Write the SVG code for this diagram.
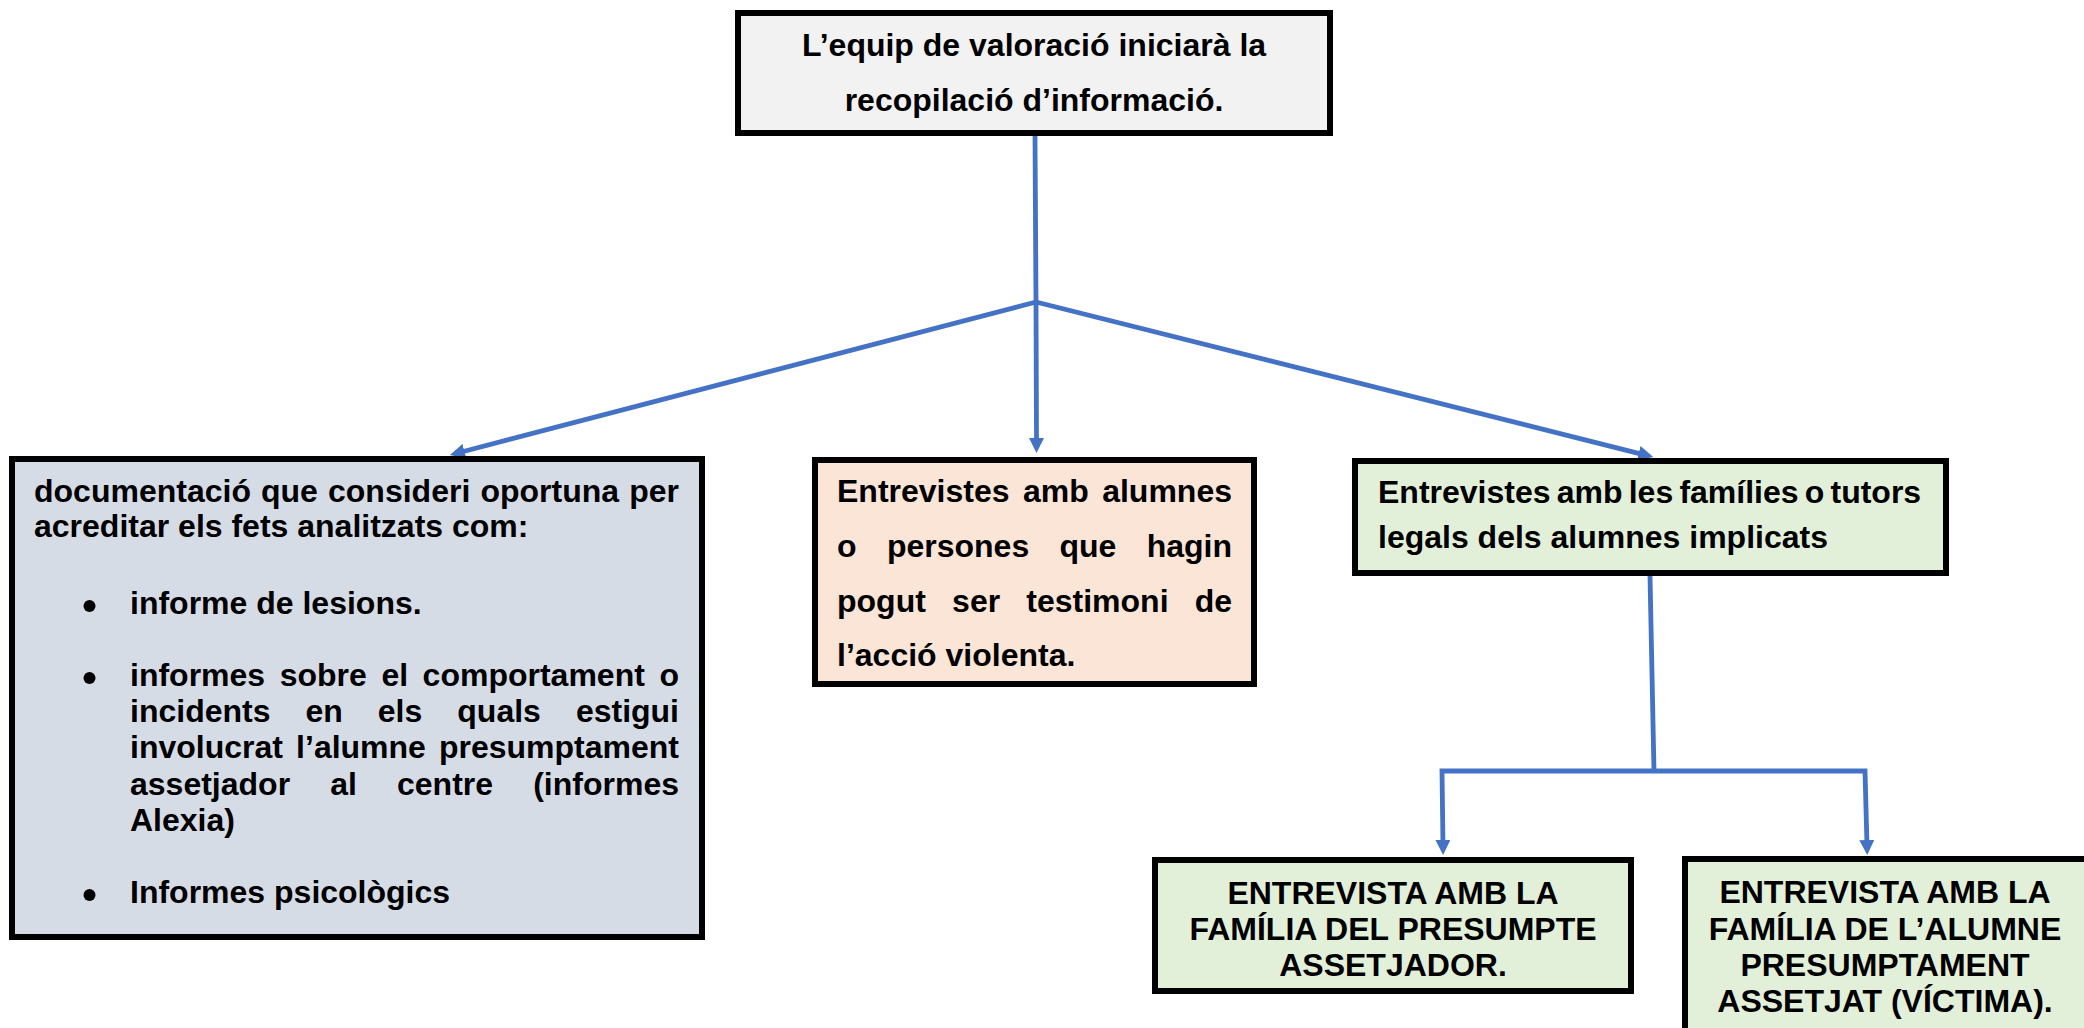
<svg xmlns="http://www.w3.org/2000/svg" width="2084" height="1028" viewBox="0 0 2084 1028">
<defs>
<style>
.box{stroke:#000;stroke-width:6}
.t{font-family:"Liberation Sans",Arial,sans-serif;font-weight:bold;font-size:32px;fill:#000}
.c{text-anchor:middle}
.conn{fill:none;stroke:#4472C4;stroke-width:4.8}
</style>
<marker id="ah" viewBox="0 0 10 10" markerWidth="15" markerHeight="15" markerUnits="userSpaceOnUse" refX="4" refY="5" orient="auto">
<path d="M0,0 L10,5 L0,10 z" fill="#4472C4"/>
</marker>
</defs>
<rect width="2084" height="1028" fill="#fff"/>
<g id="connectors">
<line class="conn" x1="1035" y1="136" x2="1036" y2="302"/>
<line class="conn" x1="1036" y1="302" x2="458.6" y2="452.7" marker-end="url(#ah)"/>
<line class="conn" x1="1036" y1="302" x2="1036.5" y2="444" marker-end="url(#ah)"/>
<line class="conn" x1="1036" y1="302" x2="1644.5" y2="454.8" marker-end="url(#ah)"/>
<line class="conn" x1="1650" y1="576" x2="1654" y2="771"/>
<path class="conn" d="M1654,771 L1442,771 L1443,846" marker-end="url(#ah)"/>
<path class="conn" d="M1654,771 L1865,771 L1867,846" marker-end="url(#ah)"/>
</g>
<g id="n-top">
<rect class="box" x="738" y="13" width="592" height="120" fill="#f2f2f2" stroke-width="5.5"/>
<text class="t c" x="1034" y="56">L’equip de valoració iniciarà la</text>
<text class="t c" x="1034" y="111">recopilació d’informació.</text>
</g>
<g id="n-docs">
<rect class="box" x="12" y="459" width="690" height="478" fill="#d6dce5"/>
<text class="t" y="502"><tspan x="34">documentació</tspan><tspan x="261">que</tspan><tspan x="328">consideri</tspan><tspan x="480.4">oportuna</tspan><tspan x="679" text-anchor="end">per</tspan></text>
<text class="t" x="34" y="537">acreditar els fets analitzats com:</text>
<circle cx="89.5" cy="606" r="6" fill="#000"/>
<text class="t" x="130" y="614">informe de lesions.</text>
<circle cx="89.5" cy="678" r="6" fill="#000"/>
<text class="t" y="686"><tspan x="130">informes</tspan><tspan x="279.7">sobre</tspan><tspan x="381.4">el</tspan><tspan x="422.6">comportament</tspan><tspan x="679" text-anchor="end">o</tspan></text>
<text class="t" y="722"><tspan x="130">incidents</tspan><tspan x="305.5">en</tspan><tspan x="377.8">els</tspan><tspan x="457.3">quals</tspan><tspan x="679" text-anchor="end">estigui</tspan></text>
<text class="t" y="758"><tspan x="130">involucrat</tspan><tspan x="296.1">l’alumne</tspan><tspan x="679" text-anchor="end">presumptament</tspan></text>
<text class="t" y="795"><tspan x="130">assetjador</tspan><tspan x="330.2">al</tspan><tspan x="397">centre</tspan><tspan x="679" text-anchor="end">(informes</tspan></text>
<text class="t" x="130" y="831">Alexia)</text>
<circle cx="89.5" cy="895" r="6" fill="#000"/>
<text class="t" x="130" y="903">Informes psicològics</text>
</g>
<g id="n-alumnes">
<rect class="box" x="815" y="460" width="439" height="224" fill="#fbe5d6"/>
<text class="t" y="502"><tspan x="837">Entrevistes</tspan><tspan x="1023">amb</tspan><tspan x="1232" text-anchor="end">alumnes</tspan></text>
<text class="t" y="557"><tspan x="837">o</tspan><tspan x="886.9">persones</tspan><tspan x="1059.5">que</tspan><tspan x="1232" text-anchor="end">hagin</tspan></text>
<text class="t" y="612"><tspan x="837">pogut</tspan><tspan x="952.1">ser</tspan><tspan x="1026.3">testimoni</tspan><tspan x="1232" text-anchor="end">de</tspan></text>
<text class="t" x="837" y="666">l’acció violenta.</text>
</g>
<g id="n-families">
<rect class="box" x="1355" y="461" width="591" height="112" fill="#e2f0d9"/>
<text class="t" x="1378" y="503" word-spacing="-2.7">Entrevistes amb les famílies o tutors</text>
<text class="t" x="1378" y="548">legals dels alumnes implicats</text>
</g>
<g id="n-assetjador">
<rect class="box" x="1155" y="860" width="476" height="131" fill="#e2f0d9"/>
<text class="t c" x="1393" y="904">ENTREVISTA AMB LA</text>
<text class="t c" x="1393" y="940">FAMÍLIA DEL PRESUMPTE</text>
<text class="t c" x="1393" y="976">ASSETJADOR.</text>
</g>
<g id="n-victima">
<rect class="box" x="1685" y="859" width="420" height="200" fill="#e2f0d9"/>
<text class="t c" x="1885" y="903">ENTREVISTA AMB LA</text>
<text class="t c" x="1885" y="940">FAMÍLIA DE L’ALUMNE</text>
<text class="t c" x="1885" y="976">PRESUMPTAMENT</text>
<text class="t c" x="1885" y="1012">ASSETJAT (VÍCTIMA).</text>
</g>
</svg>
